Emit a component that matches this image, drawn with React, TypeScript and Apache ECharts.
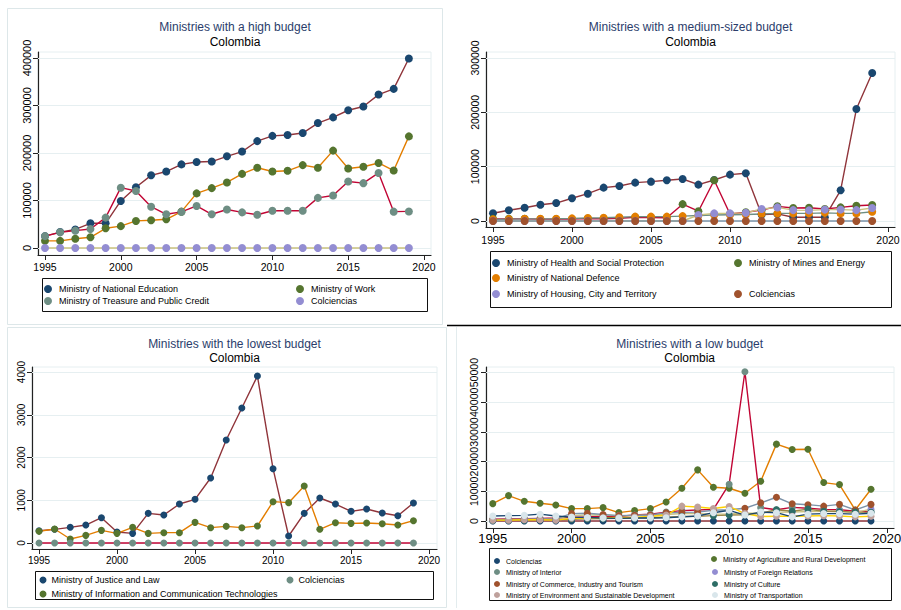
import React, { useEffect, useRef } from "react";
import * as echarts from "echarts";

// ---------- data ----------
const years = [1995, 1996, 1997, 1998, 1999, 2000, 2001, 2002, 2003, 2004, 2005, 2006, 2007, 2008, 2009, 2010, 2011, 2012, 2013, 2014, 2015, 2016, 2017, 2018, 2019];
const yearTicks = [1995, 2000, 2005, 2010, 2015, 2020];

// Panel 1: high budget
const highTicks = [0, 100000, 200000, 300000, 400000];
const highEducation = [25000, 33500, 39000, 52000, 52000, 99000, 128000, 153000, 161000, 176000, 181000, 182000, 193000, 203000, 225000, 236000, 238000, 242000, 263000, 275000, 290000, 298000, 323000, 335000, 399000];
const highWork = [15000, 15000, 19500, 22500, 41500, 46000, 57000, 58500, 60500, 76500, 115000, 126000, 138000, 156000, 169000, 161000, 162500, 174500, 169000, 205000, 167500, 171000, 179000, 163000, 235000];
const highTreasury = [25000, 33000, 36500, 40000, 64000, 127000, 120000, 87000, 71000, 76000, 88500, 71000, 81000, 75000, 70000, 78500, 78500, 78500, 105500, 110500, 140000, 136500, 158000, 76500, 77000];
const highColciencias = [0, 0, 0, 0, 0, 0, 0, 0, 0, 0, 0, 0, 0, 0, 0, 0, 0, 0, 0, 0, 0, 0, 0, 0, 0];

// Panel 2: medium-sized budget
const medTicks = [0, 100000, 200000, 300000];
const medHealth = [14200, 19700, 24500, 30000, 33000, 41800, 50300, 61400, 64500, 70600, 72400, 75000, 77300, 67000, 75500, 85300, 87800, 12000, 13000, 7000, 7000, 7000, 56500, 206000, 272500];
const medMines = [4000, 4000, 4000, 3500, 3500, 3500, 4500, 4000, 5000, 7000, 6500, 6000, 31000, 18000, 75000, 13000, 16000, 20000, 27000, 24000, 24500, 22000, 25000, 28000, 29500];
const medDefence = [3000, 3500, 4000, 4000, 4200, 4800, 5500, 6000, 7000, 8000, 8000, 8000, 9000, 10000, 11000, 11500, 12000, 13000, 14000, 14000, 14000, 15000, 14000, 14000, 17000];
const medHousing = [0, 0, 0, 0, 0, 0, 0, 0, 0, 0, 0, 0, 0, 11000, 14000, 14000, 15000, 22000, 25000, 20000, 19500, 21000, 21000, 20000, 24000];
const medColciencias = [0, 0, 0, 0, 0, 0, 0, 0, 0, 0, 0, 0, 0, 0, 0, 0, 0, 0, 0, 0, 0, 0, 0, 0, 0];

// Panel 3: lowest budget
const lowestTicks = [0, 1000, 2000, 3000, 4000];
const lowestJustice = [288, 320, 367, 421, 593, 257, 226, 694, 655, 912, 1022, 1520, 2409, 3158, 3906, 1739, 164, 694, 1053, 912, 741, 795, 702, 639, 936];
const lowestICT = [273, 327, 94, 179, 296, 226, 367, 226, 242, 242, 483, 359, 390, 359, 398, 967, 944, 1333, 320, 475, 460, 468, 452, 421, 522];
const lowestColciencias = [0, 0, 0, 0, 0, 0, 0, 0, 0, 0, 0, 0, 0, 0, 0, 0, 0, 0, 0, 0, 0, 0, 0, 0, 0];

// Panel 4: low budget
const lowTicks = [0, 10000, 20000, 30000, 40000, 50000];
const lowColciencias = [0, 0, 0, 0, 0, 0, 0, 0, 0, 0, 0, 0, 0, 0, 0, 0, 0, 0, 0, 0, 0, 0, 0, 0, 0];
const lowAgriculture = [5850, 8560, 6640, 5970, 5400, 4170, 4170, 4500, 2820, 3490, 4170, 6420, 11040, 17230, 11370, 11040, 9350, 13400, 25900, 24100, 24200, 12950, 12270, 3720, 10700];
const lowInterior = [600, 700, 800, 900, 1000, 1300, 1400, 1600, 1500, 2000, 2300, 3000, 3500, 3700, 3900, 12400, 50300, 4500, 3800, 4600, 4300, 3900, 3800, 3300, 3200];
const lowForeign = [300, 400, 500, 600, 700, 1800, 2000, 2000, 1800, 1900, 2000, 2200, 2500, 2500, 2300, 2400, 2600, 2700, 3000, 3000, 3200, 3300, 3400, 2800, 4000];
const lowCommerce = [400, 500, 600, 700, 800, 2500, 2600, 2200, 1800, 1900, 2000, 2800, 2900, 3000, 3600, 3800, 4300, 6100, 8000, 5800, 5500, 5000, 5600, 3700, 5600];
const lowCulture = [200, 300, 300, 400, 400, 600, 700, 800, 900, 1000, 1100, 1300, 1500, 1600, 1800, 2000, 2100, 2600, 3800, 3300, 4000, 3300, 3200, 3000, 2900];
const lowEnvironment = [300, 300, 400, 400, 300, 900, 1000, 1100, 1200, 1300, 1500, 2000, 5000, 4700, 4200, 4900, 2500, 1500, 1600, 1600, 1700, 1800, 1700, 1400, 1600];
const lowTransportation = [1700, 1800, 1900, 2300, 1700, 1300, 1200, 1000, 900, 1000, 1000, 1100, 1400, 1700, 2800, 3600, 2000, 3000, 2800, 1400, 2300, 2500, 2500, 2300, 2600];

// ---------- Stata s2color palette ----------
const C = {
  navy: "#1a476f", maroon: "#90353b", forest: "#55752f", dkorange: "#e37e00",
  teal: "#6e8e84", cranberry: "#c10534", lavender: "#938dd2", khaki: "#cac27e",
  sienna: "#a0522d", emidblue: "#7b92a8", emerald: "#2d6d66", brown: "#9c8847",
  erose: "#bfa19c", gold: "#ffd200", bluishgray: "#d9e6eb",
};

const FONT = "'Liberation Sans', Arial, Helvetica, sans-serif";
const GRIDC = "#e6eff1";
const TITLEC = "#2b3d6b";

type Entry = { name: string; values: number[]; marker: string; line: string; lx: number; ly: number };
type Panel = {
  title: string; tx: number; ty: number; sy: number;
  grid: { left: number; top: number; width: number; height: number };
  xmin: number; xmax: number; ymin: number; ymax: number; yticks: number[];
  fx: number; fy: number; mx: number; my: number; sym: number;
  box: [number, number, number, number]; lf: number; lw: number; lh: number;
  entries: Entry[];
};

const panels: Panel[] = [
  {
    title: "Ministries with a high budget", tx: 235, ty: 27, sy: 42,
    grid: { left: 38, top: 52, width: 393, height: 203 },
    xmin: 1994.54, xmax: 2020.46, ymin: -14737, ymax: 412632, yticks: highTicks,
    fx: 10.5, fy: 11, mx: 6, my: 6, sym: 8,
    box: [42, 278, 385, 33], lf: 9, lw: 12, lh: 8,
    entries: [
      { name: "Ministry of National Education", values: highEducation, marker: C.navy, line: C.maroon, lx: 50, ly: 289 },
      { name: "Ministry of Work", values: highWork, marker: C.forest, line: C.dkorange, lx: 302, ly: 289 },
      { name: "Ministry of Treasure and Public Credit", values: highTreasury, marker: C.teal, line: C.cranberry, lx: 50, ly: 301 },
      { name: "Colciencias", values: highColciencias, marker: C.lavender, line: C.khaki, lx: 302, ly: 301 },
    ],
  },
  {
    title: "Ministries with a medium-sized budget", tx: 690.5, ty: 26.5, sy: 42,
    grid: { left: 486, top: 52, width: 409, height: 175 },
    xmin: 1994.557, xmax: 2020.443, ymin: -11043, ymax: 311043, yticks: medTicks,
    fx: 10.5, fy: 10.5, mx: 7, my: 6, sym: 8,
    box: [490, 251, 401, 56], lf: 9, lw: 12, lh: 8,
    entries: [
      { name: "Ministry of Health and Social Protection", values: medHealth, marker: C.navy, line: C.maroon, lx: 498, ly: 263 },
      { name: "Ministry of Mines and Energy", values: medMines, marker: C.forest, line: C.cranberry, lx: 740, ly: 263 },
      { name: "Ministry of National Defence", values: medDefence, marker: C.dkorange, line: C.teal, lx: 498, ly: 278 },
      { name: "Ministry of Housing, City and Territory", values: medHousing, marker: C.lavender, line: C.khaki, lx: 498, ly: 294 },
      { name: "Colciencias", values: medColciencias, marker: C.sienna, line: C.emidblue, lx: 740, ly: 294 },
    ],
  },
  {
    title: "Ministries with the lowest budget", tx: 234.5, ty: 344, sy: 358,
    grid: { left: 32, top: 367, width: 405, height: 182 },
    xmin: 1994.55, xmax: 2020.51, ymin: -140, ymax: 4117, yticks: lowestTicks,
    fx: 10, fy: 10, mx: 6, my: 6, sym: 7,
    box: [35, 571, 398, 28], lf: 9, lw: 7, lh: 7,
    entries: [
      { name: "Ministry of Justice and Law", values: lowestJustice, marker: C.navy, line: C.maroon, lx: 43, ly: 580 },
      { name: "Ministry of Information and Communication Technologies", values: lowestICT, marker: C.forest, line: C.dkorange, lx: 43, ly: 594 },
      { name: "Colciencias", values: lowestColciencias, marker: C.teal, line: C.cranberry, lx: 290, ly: 580 },
    ],
  },
  {
    title: "Ministries with a low budget", tx: 689.7, ty: 344, sy: 358,
    grid: { left: 486, top: 367, width: 408, height: 161 },
    xmin: 1994.57, xmax: 2020.46, ymin: -2360, ymax: 51900, yticks: lowTicks,
    fx: 13, fy: 10.6, mx: 4, my: 7, sym: 7,
    box: [489, 548, 402, 52], lf: 7, lw: 8, lh: 6,
    entries: [
      { name: "Colciencias", values: lowColciencias, marker: C.navy, line: C.maroon, lx: 498, ly: 561 },
      { name: "Ministry of Agriculture and Rural Development", values: lowAgriculture, marker: C.forest, line: C.dkorange, lx: 715, ly: 559 },
      { name: "Ministry of Interior", values: lowInterior, marker: C.teal, line: C.cranberry, lx: 498, ly: 572 },
      { name: "Ministry of Foreign Relations", values: lowForeign, marker: C.lavender, line: C.khaki, lx: 716, ly: 572 },
      { name: "Ministry of Commerce, Industry and Tourism", values: lowCommerce, marker: C.sienna, line: C.emidblue, lx: 498, ly: 584 },
      { name: "Ministry of Culture", values: lowCulture, marker: C.emerald, line: C.brown, lx: 716, ly: 584 },
      { name: "Ministry of Environment and Sustainable Development", values: lowEnvironment, marker: C.erose, line: C.gold, lx: 498, ly: 595 },
      { name: "Ministry of Transportation", values: lowTransportation, marker: C.bluishgray, line: C.navy, lx: 716, ly: 595 },
    ],
  },
];

function buildOption() {
  const grid: any[] = [];
  const xAxis: any[] = [];
  const yAxis: any[] = [];
  const series: any[] = [];
  const legend: any[] = [];
  const graphic: any[] = [];
  const fmt = (v: number) => String(v);

  // panel frames
  graphic.push({ type: "rect", silent: true, shape: { x: 7.5, y: 8.5, width: 435, height: 316 }, style: { fill: "none", stroke: "#dde7e9", lineWidth: 1 } });
  graphic.push({ type: "rect", silent: true, shape: { x: 7.5, y: 327.5, width: 439, height: 280 }, style: { fill: "none", stroke: "#dde7e9", lineWidth: 1 } });
  graphic.push({ type: "line", silent: true, shape: { x1: 447, y1: 325.5, x2: 901, y2: 325.5 }, style: { stroke: "#000", lineWidth: 1.5 } });
  graphic.push({ type: "line", silent: true, shape: { x1: 456.5, y1: 327, x2: 456.5, y2: 608 }, style: { stroke: "#e3ecee", lineWidth: 1 } });

  panels.forEach((p, gi) => {
    grid.push({ ...p.grid, show: true, backgroundColor: "#ffffff", borderColor: GRIDC, borderWidth: 1, containLabel: false, outerBoundsMode: "none" });
    xAxis.push({
      type: "value", gridIndex: gi, min: p.xmin, max: p.xmax,
      axisLine: { show: true, onZero: false, lineStyle: { color: "#222", width: 1.2 } },
      axisTick: { show: true, customValues: yearTicks, length: 5, lineStyle: { color: "#222", width: 1 } },
      axisLabel: { customValues: yearTicks, formatter: fmt, fontSize: p.fx, color: "#000", margin: p.mx, fontFamily: FONT, showMinLabel: true, showMaxLabel: true, hideOverlap: false },
      splitLine: { show: false },
    });
    yAxis.push({
      type: "value", gridIndex: gi, min: p.ymin, max: p.ymax,
      axisLine: { show: true, onZero: false, lineStyle: { color: "#222", width: 1.2 } },
      axisTick: { show: true, customValues: p.yticks, length: 5, lineStyle: { color: "#222", width: 1 } },
      axisLabel: { customValues: p.yticks, formatter: fmt, rotate: 90, fontSize: p.fy, color: "#000", margin: p.my, fontFamily: FONT, showMinLabel: true, showMaxLabel: true, hideOverlap: false },
      splitLine: { show: false },
    });
    // horizontal grid lines at the tick values
    series.push({
      type: "line", name: "grid" + gi, xAxisIndex: gi, yAxisIndex: gi, data: [], silent: true, z: 1,
      markLine: {
        silent: true, symbol: "none", z: 1, animation: false,
        label: { show: false },
        lineStyle: { color: GRIDC, width: 1.2, type: "solid" },
        data: p.yticks.map((t) => ({ yAxis: t })),
      },
    });
    p.entries.forEach((e) => {
      const pts = years.map((yr, i) => [yr, e.values[i]]);
      series.push({
        type: "scatter", name: e.name, xAxisIndex: gi, yAxisIndex: gi, data: pts,
        symbol: "circle", symbolSize: p.sym, silent: true, z: 2,
        itemStyle: { color: e.marker, opacity: 1 },
      });
      series.push({
        type: "line", name: e.name + " \u200bline", xAxisIndex: gi, yAxisIndex: gi, data: pts,
        symbol: "none", showSymbol: false, silent: true, z: 2,
        lineStyle: { color: e.line, width: 1.4 },
      });
      const lineH = Math.round(p.lf * 1.25);
      const boxH = Math.max(p.lh, lineH);
      legend.push({
        data: [{ name: e.name, itemStyle: { color: e.marker } }],
        left: e.lx - p.lw / 2, top: e.ly - boxH / 2,
        orient: "horizontal", padding: 0, itemGap: 0,
        itemWidth: p.lw, itemHeight: p.lh, icon: "circle", selectedMode: false,
        textStyle: { fontSize: p.lf, lineHeight: lineH, color: "#000", fontFamily: FONT },
      });
    });
    const [bx, by, bw, bh] = p.box;
    graphic.push({ type: "rect", silent: true, shape: { x: bx + 0.5, y: by + 0.5, width: bw, height: bh }, style: { fill: "none", stroke: "#111", lineWidth: 1 } });
    graphic.push({ type: "text", silent: true, x: p.tx, y: p.ty, style: { text: p.title, fontSize: 12, fontFamily: FONT, fill: TITLEC, align: "center", verticalAlign: "middle" } });
    graphic.push({ type: "text", silent: true, x: p.tx, y: p.sy, style: { text: "Colombia", fontSize: 12, fontFamily: FONT, fill: "#000", align: "center", verticalAlign: "middle" } });
  });

  return { animation: false, backgroundColor: "#ffffff", grid, xAxis, yAxis, series, legend, graphic };
}

export default function App() {
  const ref = useRef<HTMLDivElement>(null);
  useEffect(() => {
    if (!ref.current) return;
    const chart = echarts.init(ref.current, null, { renderer: "svg" });
    chart.setOption(buildOption() as any);
    return () => chart.dispose();
  }, []);
  return <div ref={ref} style={{ position: "fixed", left: 0, top: 0, width: 901, height: 610, background: "#fff" }} />;
}
